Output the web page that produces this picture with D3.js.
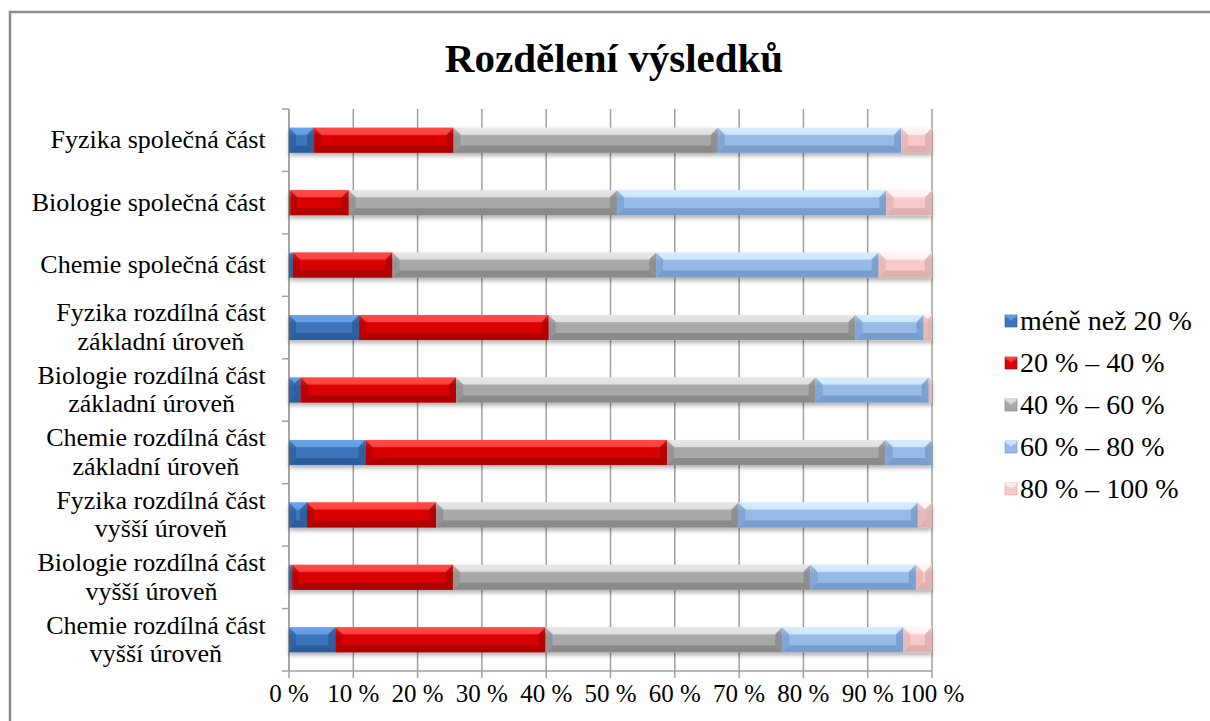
<!DOCTYPE html>
<html>
<head>
<meta charset="utf-8">
<script src="https://cdn.jsdelivr.net/npm/d3@7"></script>
<style>
  body { margin: 0; background: #fff; }
</style>
</head>
<body>
<svg id="chart"></svg>
<script>
// categories, top to bottom
var categories = [
  "Fyzika společná část",
  "Biologie společná část",
  "Chemie společná část",
  "Fyzika rozdílná část\nzákladní úroveň",
  "Biologie rozdílná část\nzákladní úroveň",
  "Chemie rozdílná část\nzákladní úroveň",
  "Fyzika rozdílná část\nvyšší úroveň",
  "Biologie rozdílná část\nvyšší úroveň",
  "Chemie rozdílná část\nvyšší úroveň"
];

var seriesNames = ["méně než 20 %", "20 % – 40 %", "40 % – 60 %", "60 % – 80 %", "80 % – 100 %"];

// shares in percent, one value per category
var s0to20   = [3.9, 0.2, 0.6, 10.9, 1.8, 11.9, 2.8, 0.5, 7.2];
var s20to40  = [21.7, 9.1, 15.5, 29.5, 24.2, 46.9, 20.1, 25.0, 32.7];
var s40to60  = [41.1, 41.7, 41.0, 47.7, 55.9, 34.0, 47.0, 55.6, 36.8];
var s60to80  = [28.5, 41.9, 34.6, 10.6, 17.6, 7.2, 27.9, 16.4, 18.8];
var s80to100 = [4.8, 7.1, 8.3, 1.3, 0.5, 0.0, 2.2, 2.5, 4.5];

var xTicks = [0, 10, 20, 30, 40, 50, 60, 70, 80, 90, 100];

var allSeries = [s0to20, s20to40, s40to60, s60to80, s80to100];

// colours: [face, light, dark]
var palette = [
  ["#3d75bd", "#6aa2e6", "#24528c"],
  ["#d80000", "#ff4a4a", "#9c0000"],
  ["#a8a8a8", "#e6e6e6", "#7e7e7e"],
  ["#96bbe9", "#d6ecff", "#6b8fbf"],
  ["#f6caca", "#fff4f4", "#d6a4a4"]
];

var FONT = "'Liberation Serif', 'Times New Roman', serif";
var width = 1210, height = 721;
var margin = {left: 289, right: 278, top: 109, bottom: 50};

var svg = d3.select("#chart").attr("width", width).attr("height", height);

// chart frame
svg.append("rect")
  .attr("x", 10).attr("y", 12)
  .attr("width", 1220).attr("height", 730)
  .attr("fill", "#fff").attr("stroke", "#8c8c8c").attr("stroke-width", 2.5);

svg.append("text")
  .attr("x", 614).attr("y", 72)
  .attr("text-anchor", "middle")
  .attr("font-family", FONT)
  .attr("font-size", 41).attr("font-weight", "bold")
  .text("Rozdělení výsledků");

var table = categories.map(function(c, i) {
  var row = {cat: c};
  seriesNames.forEach(function(s, k) { row[s] = allSeries[k][i]; });
  return row;
});

var x = d3.scaleLinear().domain([0, 100]).range([margin.left, width - margin.right]);
var y = d3.scaleBand().domain(categories)
  .range([margin.top, height - margin.bottom]).paddingInner(0.6).paddingOuter(0.3);
var yb = d3.scaleBand().domain(categories).range([margin.top, height - margin.bottom]);

var defs = svg.append("defs");
var f = defs.append("filter").attr("id", "shadow")
  .attr("x", "-5%").attr("y", "-30%").attr("width", "110%").attr("height", "180%");
f.append("feDropShadow").attr("dx", 0).attr("dy", 3).attr("stdDeviation", 2)
  .attr("flood-color", "#000").attr("flood-opacity", 0.3);

palette.forEach(function(p, k) {
  var g = defs.append("linearGradient").attr("id", "grad" + k)
    .attr("x1", 0).attr("y1", 0).attr("x2", 0).attr("y2", 1);
  g.append("stop").attr("offset", "0%").attr("stop-color", p[1]);
  g.append("stop").attr("offset", "35%").attr("stop-color", p[0]);
  g.append("stop").attr("offset", "100%").attr("stop-color", p[0]);
});

// gridlines
svg.append("g").selectAll("line").data(xTicks).enter().append("line")
  .attr("x1", function(d) { return x(d); }).attr("x2", function(d) { return x(d); })
  .attr("y1", margin.top).attr("y2", height - margin.bottom + 7)
  .attr("stroke", "#a0a0a0").attr("stroke-width", 1.5);

// axes
var yEdges = categories.map(function(c) { return yb(c); }).concat([height - margin.bottom]);
svg.append("line")
  .attr("x1", margin.left).attr("x2", margin.left)
  .attr("y1", margin.top).attr("y2", height - margin.bottom)
  .attr("stroke", "#a0a0a0").attr("stroke-width", 1.5);
svg.append("g").selectAll("line").data(yEdges).enter().append("line")
  .attr("x1", margin.left - 7).attr("x2", margin.left)
  .attr("y1", function(d) { return d; }).attr("y2", function(d) { return d; })
  .attr("stroke", "#a0a0a0").attr("stroke-width", 1.5);
svg.append("line")
  .attr("x1", margin.left).attr("x2", width - margin.right)
  .attr("y1", height - margin.bottom).attr("y2", height - margin.bottom)
  .attr("stroke", "#a0a0a0").attr("stroke-width", 1.5);

svg.append("g").selectAll("text").data(xTicks).enter().append("text")
  .attr("x", function(d) { return x(d); })
  .attr("y", 702)
  .attr("text-anchor", "middle")
  .attr("font-family", FONT).attr("font-size", 25)
  .text(function(d) { return d + " %"; });

// category labels, multi-line centred in a right-aligned block
var labels = svg.append("g").selectAll("g").data(categories).enter().append("g");
labels.each(function(c) {
  var lines = c.split("\n");
  var g = d3.select(this);
  var cy = yb(c) + yb.bandwidth() / 2;
  var lh = 28.5;
  var t = g.append("text").attr("font-family", FONT).attr("font-size", 26)
    .attr("text-anchor", "middle");
  lines.forEach(function(l, i) {
    t.append("tspan").attr("x", 0)
      .attr("y", cy + (i - (lines.length - 1) / 2) * lh + 8)
      .text(l);
  });
  var w = t.node().getBBox().width;
  t.attr("transform", "translate(" + (266 - w / 2) + ",0)");
});

// bars
var stack = d3.stack().keys(seriesNames);
var layers = stack(table);

function bevel(sel, k) {
  sel.each(function(d) {
    var x0 = x(d[0]), x1 = x(d[1]);
    var y0 = y(d.data.cat), h = y.bandwidth(), y1 = y0 + h;
    var w = x1 - x0;
    if (w <= 0) return;
    var b = Math.min(7, w / 2, h / 2);
    var g = d3.select(this);
    g.append("rect").attr("x", x0).attr("y", y0).attr("width", w).attr("height", h)
      .attr("fill", "url(#grad" + k + ")");
    var p = palette[k];
    // top facet
    g.append("polygon")
      .attr("points", [[x0, y0], [x1, y0], [x1 - b, y0 + b], [x0 + b, y0 + b]].join(" "))
      .attr("fill", p[1]).attr("opacity", 0.85);
    // bottom facet
    g.append("polygon")
      .attr("points", [[x0, y1], [x1, y1], [x1 - b, y1 - b], [x0 + b, y1 - b]].join(" "))
      .attr("fill", p[2]).attr("opacity", 0.7);
    // side facets
    g.append("polygon")
      .attr("points", [[x0, y0], [x0 + b, y0 + b], [x0 + b, y1 - b], [x0, y1]].join(" "))
      .attr("fill", p[2]).attr("opacity", 0.45);
    g.append("polygon")
      .attr("points", [[x1, y0], [x1 - b, y0 + b], [x1 - b, y1 - b], [x1, y1]].join(" "))
      .attr("fill", p[2]).attr("opacity", 0.6);
  });
}

var barG = svg.append("g").attr("filter", "url(#shadow)");
layers.forEach(function(layer, k) {
  barG.append("g").selectAll("g").data(layer).enter().append("g")
    .call(bevel, k);
});

// legend
var legend = svg.append("g").selectAll("g").data(seriesNames).enter().append("g")
  .attr("transform", function(d, i) { return "translate(1005," + (321 + i * 42) + ")"; });
legend.append("rect")
  .attr("x", 0).attr("y", -6).attr("width", 12).attr("height", 12)
  .attr("fill", function(d, i) { return "url(#grad" + i + ")"; })
  .attr("stroke", function(d, i) { return palette[i][2]; }).attr("stroke-width", 0.6);
legend.append("polygon")
  .attr("points", "0,-6 12,-6 6,0")
  .attr("fill", function(d, i) { return palette[i][1]; }).attr("opacity", 0.7);
legend.append("text")
  .attr("x", 15).attr("y", 9)
  .attr("font-family", FONT).attr("font-size", 28)
  .text(function(d) { return d; });
</script>
</body>
</html>
